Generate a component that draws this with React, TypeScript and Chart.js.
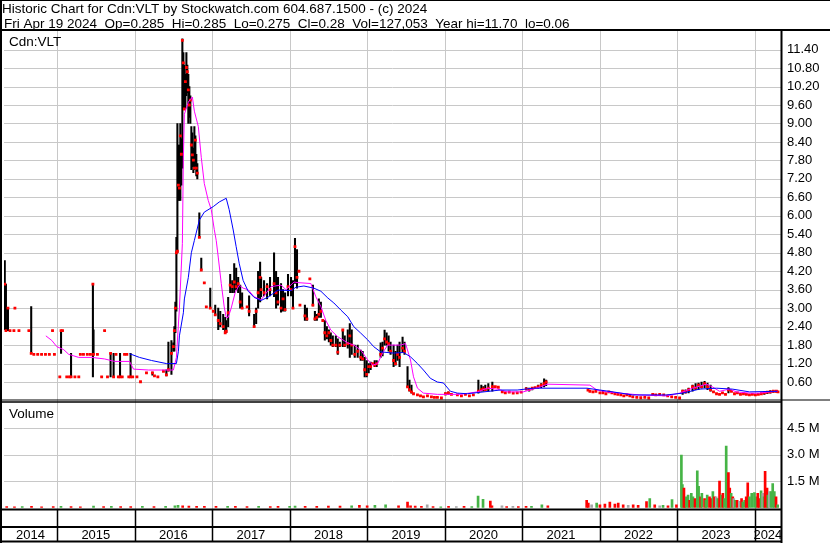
import React, { useEffect, useRef } from "react";
import { Chart, registerables } from "chart.js";

Chart.register(...registerables);

const FONT = "'Liberation Sans', Arial, sans-serif";

// ---- text ----
const headerLine1 = "Historic Chart for Cdn:VLT by Stockwatch.com 604.687.1500 - (c) 2024";
const headerLine2 = "Fri Apr 19 2024  Op=0.285  Hi=0.285  Lo=0.275  Cl=0.28  Vol=127,053  Year hi=11.70  lo=0.06";
const symbolLabel = "Cdn:VLT";
const volumeLabel = "Volume";
const yearLabels = ["2014", "2015", "2016", "2017", "2018", "2019", "2020", "2021", "2022", "2023", "2024"];
const priceTicks = [0.6, 1.2, 1.8, 2.4, 3.0, 3.6, 4.2, 4.8, 5.4, 6.0, 6.6, 7.2, 7.8, 8.4, 9.0, 9.6, 10.2, 10.8, 11.4];
const volumeTicks = [1.5, 3.0, 4.5];

// ---- time range (decimal years) ----
const xMin = 2014.315;
const xMax = 2024.339;

// ---- price bars (decimal year, high, low, close) ----
const barDates = [
  2014.325, 2014.340, 2014.366, 2014.392, 2014.443, 2014.456, 2014.508, 2014.636, 2014.666, 2014.700,
  2014.750, 2014.800, 2014.850, 2014.900, 2014.941, 2014.965, 2015.035, 2015.051, 2015.070, 2015.125,
  2015.160, 2015.180, 2015.230, 2015.280, 2015.300, 2015.340, 2015.390, 2015.430, 2015.462, 2015.470,
  2015.520, 2015.575, 2015.613, 2015.650, 2015.690, 2015.729, 2015.760, 2015.790, 2015.812, 2015.840,
  2015.870, 2015.900, 2015.925, 2015.948, 2015.975, 2016.030, 2016.076, 2016.153, 2016.230, 2016.256,
  2016.300, 2016.372, 2016.410, 2016.436, 2016.475, 2016.500, 2016.513, 2016.526, 2016.539, 2016.552,
  2016.565, 2016.578, 2016.590, 2016.603, 2016.616, 2016.629, 2016.642, 2016.655, 2016.668, 2016.680,
  2016.693, 2016.706, 2016.719, 2016.732, 2016.745, 2016.758, 2016.771, 2016.784, 2016.796, 2016.809,
  2016.835, 2016.860, 2016.899, 2016.925, 2016.976, 2017.015, 2017.040, 2017.079, 2017.105, 2017.143,
  2017.169, 2017.182, 2017.207, 2017.233, 2017.259, 2017.285, 2017.310, 2017.336, 2017.362, 2017.387,
  2017.452, 2017.477, 2017.542, 2017.568, 2017.593, 2017.619, 2017.632, 2017.670, 2017.709, 2017.747,
  2017.799, 2017.825, 2017.850, 2017.889, 2017.915, 2017.941, 2017.979, 2018.018, 2018.043, 2018.069,
  2018.095, 2018.120, 2018.133, 2018.197, 2018.223, 2018.261, 2018.300, 2018.326, 2018.351, 2018.377,
  2018.403, 2018.428, 2018.454, 2018.480, 2018.506, 2018.531, 2018.557, 2018.596, 2018.621, 2018.647,
  2018.686, 2018.711, 2018.750, 2018.776, 2018.801, 2018.840, 2018.878, 2018.917, 2018.942, 2018.968,
  2018.994, 2019.020, 2019.045, 2019.071, 2019.097, 2019.123, 2019.174, 2019.199, 2019.225, 2019.251,
  2019.277, 2019.302, 2019.341, 2019.366, 2019.392, 2019.418, 2019.457, 2019.482, 2019.521, 2019.546,
  2019.572, 2019.598, 2019.649, 2019.688, 2019.726, 2019.778, 2019.829, 2019.868, 2019.906, 2019.958,
  2020.010, 2020.048, 2020.087, 2020.164, 2020.216, 2020.267, 2020.319, 2020.370, 2020.435, 2020.473,
  2020.499, 2020.524, 2020.563, 2020.615, 2020.653, 2020.692, 2020.743, 2020.782, 2020.833, 2020.884,
  2020.936, 2020.987, 2021.052, 2021.090, 2021.129, 2021.167, 2021.206, 2021.245, 2021.283, 2021.309,
  2021.849, 2021.874, 2021.913, 2021.951, 2022.003, 2022.042, 2022.080, 2022.118, 2022.157, 2022.196,
  2022.234, 2022.273, 2022.311, 2022.350, 2022.389, 2022.427, 2022.479, 2022.530, 2022.582, 2022.633,
  2022.684, 2022.723, 2022.774, 2022.826, 2022.877, 2022.929, 2022.980, 2023.031, 2023.070, 2023.108,
  2023.147, 2023.198, 2023.237, 2023.275, 2023.314, 2023.353, 2023.391, 2023.430, 2023.468, 2023.507,
  2023.546, 2023.584, 2023.623, 2023.661, 2023.700, 2023.739, 2023.777, 2023.816, 2023.855, 2023.893,
  2023.932, 2023.970, 2024.009, 2024.047, 2024.086, 2024.124, 2024.163, 2024.201, 2024.240, 2024.279, 2024.300,
];
const barHigh = [
  4.55, 3.78, 3.00, 2.27, 2.27, 3.00, 2.27, 2.27, 3.05, 1.50,
  1.50, 1.50, 1.50, 1.50, 2.27, 1.50, 0.77, 2.27, 2.27, 0.77,
  0.77, 1.53, 0.77, 0.77, 1.50, 1.50, 1.50, 1.50, 3.78, 2.30,
  1.50, 0.77, 2.27, 0.77, 1.53, 1.53, 1.50, 0.77, 1.53, 0.77,
  1.50, 1.50, 0.77, 1.53, 0.77, 0.77, 0.61, 0.90, 0.92, 0.80,
  0.77, 0.95, 1.00, 1.90, 1.95, 1.87, 2.40, 3.20, 5.30, 9.00,
  8.30, 8.30, 9.00, 8.50, 11.75, 11.30, 10.90, 10.60, 11.30, 10.90,
  10.60, 10.20, 9.90, 8.90, 8.70, 8.20, 8.90, 8.60, 8.00, 7.70,
  6.10, 4.63, 3.82, 3.04, 3.65, 2.90, 3.10, 3.00, 2.90, 2.80,
  2.70, 2.60, 3.35, 4.10, 3.90, 4.45, 4.30, 4.00, 3.75, 3.50,
  3.04, 3.40, 2.80, 3.00, 4.20, 4.50, 4.00, 3.90, 3.80, 4.00,
  4.80, 4.20, 4.00, 3.80, 3.60, 3.50, 4.10, 4.00, 3.90, 5.27,
  4.90, 4.20, 3.10, 3.10, 3.00, 3.95, 3.75, 2.90, 2.80, 3.30,
  3.20, 2.60, 2.60, 2.40, 2.30, 2.20, 2.10, 2.10, 2.00, 1.90,
  2.30, 2.10, 2.30, 2.50, 2.30, 1.80, 1.80, 1.64, 1.60, 1.40,
  1.30, 1.20, 1.25, 1.20, 1.30, 1.30, 1.87, 1.90, 2.29, 2.20,
  2.10, 1.90, 1.80, 1.60, 1.80, 1.90, 2.06, 1.90, 1.10, 0.66,
  0.50, 0.22, 0.18, 0.15, 0.12, 0.15, 0.12, 0.10, 0.10, 0.08,
  0.25, 0.28, 0.20, 0.18, 0.15, 0.20, 0.15, 0.18, 0.66, 0.50,
  0.45, 0.50, 0.55, 0.60, 0.45, 0.43, 0.28, 0.25, 0.27, 0.24,
  0.25, 0.27, 0.42, 0.40, 0.42, 0.42, 0.50, 0.55, 0.70, 0.66,
  0.34, 0.30, 0.28, 0.30, 0.25, 0.32, 0.22, 0.28, 0.25, 0.22,
  0.20, 0.18, 0.15, 0.18, 0.15, 0.12, 0.10, 0.09, 0.10, 0.08,
  0.20, 0.18, 0.20, 0.18, 0.15, 0.12, 0.10, 0.08, 0.34, 0.35,
  0.40, 0.50, 0.55, 0.57, 0.60, 0.62, 0.57, 0.50, 0.28, 0.22,
  0.20, 0.25, 0.20, 0.42, 0.30, 0.22, 0.25, 0.20, 0.22, 0.20,
  0.18, 0.20, 0.18, 0.20, 0.22, 0.28, 0.30, 0.32, 0.32, 0.33, 0.285,
];
const barLow = [
  2.30, 2.27, 2.27, 2.27, 2.27, 3.00, 2.27, 2.27, 1.53, 1.50,
  1.50, 1.50, 1.50, 1.50, 2.27, 1.50, 0.77, 1.53, 2.27, 0.77,
  0.77, 0.77, 0.77, 0.77, 1.50, 1.50, 1.50, 1.50, 0.77, 1.50,
  1.50, 0.77, 2.27, 0.77, 0.77, 0.77, 1.50, 0.77, 0.77, 0.77,
  1.50, 1.50, 0.77, 0.77, 0.77, 0.77, 0.61, 0.90, 0.82, 0.80,
  0.77, 0.95, 0.80, 0.95, 0.85, 1.60, 1.60, 2.20, 2.90, 4.80,
  6.50, 6.50, 6.50, 7.00, 7.55, 9.45, 9.45, 9.50, 9.90, 10.00,
  9.00, 9.20, 9.00, 7.50, 7.60, 7.40, 7.50, 7.60, 7.30, 7.20,
  5.30, 4.24, 3.82, 3.04, 3.00, 2.90, 2.78, 2.30, 2.40, 2.30,
  2.20, 2.20, 2.40, 3.50, 3.50, 3.50, 3.60, 3.50, 3.00, 3.00,
  3.04, 2.75, 2.40, 2.50, 3.00, 3.20, 3.37, 3.40, 3.30, 3.40,
  3.37, 3.00, 3.10, 2.87, 2.90, 2.90, 3.40, 3.40, 3.00, 3.80,
  3.65, 4.20, 3.10, 2.60, 2.60, 3.95, 3.07, 2.60, 2.60, 2.70,
  2.70, 2.60, 1.96, 2.00, 1.90, 1.80, 1.75, 1.75, 1.50, 1.75,
  1.75, 1.75, 1.70, 1.40, 1.50, 1.40, 1.40, 1.30, 1.30, 0.77,
  0.77, 0.90, 1.00, 1.20, 1.10, 1.10, 1.40, 1.45, 1.80, 1.80,
  1.60, 1.50, 1.10, 1.15, 1.30, 1.10, 1.57, 1.50, 0.44, 0.30,
  0.24, 0.22, 0.18, 0.15, 0.12, 0.15, 0.12, 0.10, 0.10, 0.08,
  0.18, 0.20, 0.20, 0.18, 0.15, 0.20, 0.15, 0.18, 0.24, 0.30,
  0.30, 0.32, 0.30, 0.30, 0.45, 0.43, 0.28, 0.25, 0.27, 0.24,
  0.25, 0.27, 0.34, 0.30, 0.34, 0.42, 0.40, 0.42, 0.44, 0.48,
  0.34, 0.30, 0.28, 0.30, 0.25, 0.22, 0.22, 0.28, 0.25, 0.22,
  0.20, 0.18, 0.15, 0.18, 0.15, 0.12, 0.10, 0.09, 0.10, 0.08,
  0.20, 0.18, 0.20, 0.18, 0.15, 0.12, 0.10, 0.08, 0.20, 0.24,
  0.25, 0.30, 0.35, 0.35, 0.40, 0.42, 0.35, 0.30, 0.28, 0.22,
  0.20, 0.25, 0.20, 0.25, 0.30, 0.22, 0.25, 0.20, 0.22, 0.20,
  0.18, 0.20, 0.18, 0.20, 0.22, 0.20, 0.22, 0.24, 0.26, 0.27, 0.275,
];
const barClose = [
  3.78, 2.27, 3.00, 2.27, 2.27, 3.00, 2.27, 2.27, 1.53, 1.50,
  1.50, 1.50, 1.50, 1.50, 2.27, 1.50, 0.77, 2.27, 2.27, 0.77,
  0.77, 0.77, 0.77, 0.77, 1.50, 1.50, 1.50, 1.50, 3.78, 1.50,
  1.50, 0.77, 2.27, 0.77, 1.53, 0.77, 1.50, 0.77, 0.77, 0.77,
  1.50, 1.50, 0.77, 0.77, 0.77, 0.77, 0.61, 0.90, 0.90, 0.80,
  0.77, 0.95, 0.83, 1.00, 1.53, 1.75, 2.27, 3.00, 4.80, 4.85,
  7.00, 6.90, 8.60, 8.00, 11.70, 10.97, 9.47, 10.36, 10.82, 10.68,
  10.09, 9.60, 9.76, 8.30, 7.98, 7.81, 7.55, 8.46, 7.55, 7.39,
  5.30, 4.24, 3.82, 3.04, 3.00, 2.90, 2.78, 2.60, 2.50, 2.40,
  2.20, 2.25, 2.85, 3.75, 3.70, 3.85, 3.70, 3.80, 3.20, 3.00,
  3.04, 2.90, 2.40, 2.90, 3.50, 4.00, 3.60, 3.50, 3.70, 3.60,
  3.80, 3.50, 3.20, 3.00, 3.30, 2.95, 3.70, 3.60, 3.00, 5.00,
  4.00, 4.20, 3.10, 2.75, 2.65, 3.95, 3.10, 2.65, 2.70, 2.80,
  2.90, 2.60, 2.20, 2.10, 2.20, 1.95, 1.80, 1.80, 1.57, 1.80,
  2.29, 1.80, 1.85, 2.10, 1.80, 1.50, 1.60, 1.40, 1.35, 1.00,
  0.85, 1.10, 1.10, 1.20, 1.15, 1.20, 1.50, 1.70, 2.00, 1.90,
  1.85, 1.60, 1.30, 1.20, 1.50, 1.40, 1.70, 1.60, 0.44, 0.35,
  0.28, 0.22, 0.18, 0.15, 0.12, 0.15, 0.12, 0.10, 0.10, 0.08,
  0.22, 0.25, 0.20, 0.18, 0.15, 0.20, 0.15, 0.18, 0.30, 0.35,
  0.38, 0.35, 0.40, 0.45, 0.45, 0.43, 0.28, 0.25, 0.27, 0.24,
  0.25, 0.27, 0.38, 0.36, 0.40, 0.42, 0.45, 0.50, 0.55, 0.60,
  0.34, 0.30, 0.28, 0.30, 0.25, 0.25, 0.22, 0.28, 0.25, 0.22,
  0.20, 0.18, 0.15, 0.18, 0.15, 0.12, 0.10, 0.09, 0.10, 0.08,
  0.20, 0.18, 0.20, 0.18, 0.15, 0.12, 0.10, 0.08, 0.30, 0.28,
  0.35, 0.45, 0.40, 0.50, 0.45, 0.55, 0.45, 0.35, 0.28, 0.22,
  0.20, 0.25, 0.20, 0.35, 0.30, 0.22, 0.25, 0.20, 0.22, 0.20,
  0.18, 0.20, 0.18, 0.20, 0.22, 0.25, 0.27, 0.28, 0.30, 0.30, 0.28,
];

// ---- short moving average (magenta) ----
const fastMaDates = [
  2014.855, 2014.932, 2014.996, 2015.086, 2015.150, 2015.215, 2015.279, 2015.446, 2015.613, 2015.742,
  2015.935, 2015.986, 2016.179, 2016.500, 2016.539, 2016.578, 2016.616, 2016.629, 2016.642, 2016.693,
  2016.745, 2016.771, 2016.822, 2016.860, 2016.899, 2016.950, 2016.989, 2017.028, 2017.053, 2017.079,
  2017.118, 2017.156, 2017.182, 2017.207, 2017.246, 2017.297, 2017.349, 2017.400, 2017.465, 2017.542,
  2017.632, 2017.760, 2017.889, 2017.953, 2018.056, 2018.107, 2018.274, 2018.338, 2018.403, 2018.467,
  2018.531, 2018.621, 2018.750, 2018.827, 2018.917, 2019.007, 2019.071, 2019.135, 2019.199, 2019.264,
  2019.431, 2019.495, 2019.559, 2019.598, 2019.649, 2019.726, 2019.906, 2020.203, 2020.422, 2020.550,
  2020.679, 2020.807, 2021.013, 2021.142, 2021.232, 2021.322, 2021.874, 2021.964, 2022.093, 2022.260,
  2022.517, 2022.864, 2023.031, 2023.198, 2023.378, 2023.456, 2023.546, 2023.674, 2023.764, 2023.932,
  2024.060, 2024.189, 2024.292,
];
const fastMaValues = [
  2.10, 1.95, 1.75, 1.65, 1.50, 1.45, 1.40, 1.40, 1.35, 1.27,
  1.27, 1.02, 0.99, 0.99, 1.40, 3.00, 5.10, 7.90, 9.30, 9.70,
  9.86, 9.40, 8.90, 7.90, 7.05, 6.50, 6.20, 5.55, 5.20, 4.66,
  3.80, 3.04, 2.70, 2.70, 3.00, 3.50, 3.75, 3.65, 3.60, 3.37,
  3.27, 3.70, 3.75, 3.60, 3.85, 3.83, 3.80, 3.37, 3.05, 2.60,
  2.29, 2.07, 1.87, 1.80, 1.64, 1.32, 1.15, 1.20, 1.54, 1.80,
  1.80, 1.85, 1.32, 0.77, 0.40, 0.24, 0.20, 0.20, 0.28, 0.40,
  0.37, 0.28, 0.28, 0.37, 0.44, 0.53, 0.50, 0.34, 0.28, 0.24,
  0.18, 0.15, 0.24, 0.40, 0.53, 0.44, 0.30, 0.37, 0.28, 0.24,
  0.24, 0.28, 0.30,
];

// ---- long moving average (blue) ----
const slowMaDates = [
  2015.935, 2016.063, 2016.218, 2016.410, 2016.539, 2016.565, 2016.578, 2016.629, 2016.642, 2016.693,
  2016.732, 2016.771, 2016.835, 2016.899, 2017.015, 2017.092, 2017.182, 2017.220, 2017.272, 2017.310,
  2017.349, 2017.400, 2017.465, 2017.542, 2017.632, 2017.722, 2017.850, 2018.018, 2018.082, 2018.184,
  2018.313, 2018.403, 2018.493, 2018.570, 2018.660, 2018.750, 2018.827, 2018.917, 2019.007, 2019.084,
  2019.174, 2019.341, 2019.469, 2019.559, 2019.649, 2019.726, 2019.816, 2019.906, 2019.984, 2020.074,
  2020.164, 2020.293, 2020.717, 2020.936, 2021.142, 2021.836, 2022.003, 2022.170, 2022.427, 2022.864,
  2023.070, 2023.288, 2023.507, 2023.713, 2023.932, 2024.292,
];
const slowMaValues = [
  1.52, 1.40, 1.30, 1.20, 1.20, 1.60, 2.10, 2.85, 3.30, 4.00,
  4.80, 5.20, 5.86, 6.12, 6.30, 6.45, 6.57, 6.20, 5.54, 5.00,
  4.46, 3.90, 3.55, 3.35, 3.25, 3.36, 3.59, 3.57, 3.68, 3.72,
  3.65, 3.55, 3.33, 3.17, 2.94, 2.72, 2.40, 2.19, 1.97, 1.75,
  1.58, 1.54, 1.56, 1.42, 1.20, 0.99, 0.72, 0.60, 0.57, 0.30,
  0.24, 0.22, 0.34, 0.34, 0.40, 0.40, 0.34, 0.28, 0.18, 0.18,
  0.24, 0.37, 0.40, 0.37, 0.28, 0.30,
];

// ---- volume (decimal year, millions of shares, u=up d=down n=unchanged) ----
const volDates = [
  2014.350, 2014.450, 2014.550, 2014.670, 2014.800, 2014.950, 2015.050, 2015.180, 2015.300, 2015.470,
  2015.600, 2015.700, 2015.820, 2015.950, 2016.100, 2016.250, 2016.400, 2016.520, 2016.560, 2016.620,
  2016.700, 2016.800, 2016.900, 2017.050, 2017.200, 2017.300, 2017.450, 2017.600, 2017.750, 2017.850,
  2018.000, 2018.070, 2018.200, 2018.350, 2018.500, 2018.650, 2018.800, 2018.900, 2019.000, 2019.100,
  2019.238, 2019.405, 2019.521, 2019.560, 2019.620, 2019.700, 2019.775, 2019.850, 2019.950, 2020.050,
  2020.150, 2020.250, 2020.350, 2020.431, 2020.495, 2020.589, 2020.610, 2020.739, 2020.800, 2020.880,
  2020.950, 2021.050, 2021.120, 2021.254, 2021.331, 2021.832, 2021.853, 2021.896, 2021.961, 2022.003,
  2022.067, 2022.131, 2022.196, 2022.239, 2022.303, 2022.368, 2022.432, 2022.496, 2022.604, 2022.646,
  2022.710, 2022.774, 2022.817, 2022.881, 2022.933, 2022.990, 2023.054, 2023.067, 2023.087, 2023.100,
  2023.118, 2023.140, 2023.160, 2023.182, 2023.203, 2023.230, 2023.259, 2023.276, 2023.302, 2023.318,
  2023.353, 2023.370, 2023.387, 2023.417, 2023.440, 2023.460, 2023.481, 2023.503, 2023.524, 2023.546,
  2023.570, 2023.589, 2023.610, 2023.632, 2023.645, 2023.661, 2023.678, 2023.696, 2023.717, 2023.730,
  2023.748, 2023.773, 2023.803, 2023.830, 2023.846, 2023.870, 2023.890, 2023.910, 2023.932, 2023.961,
  2023.996, 2024.018, 2024.039, 2024.060, 2024.082, 2024.103, 2024.120, 2024.134, 2024.159, 2024.170,
  2024.189, 2024.211, 2024.232, 2024.253, 2024.275, 2024.296,
];
const volValues = [
  0.05, 0.04, 0.05, 0.06, 0.04, 0.05, 0.06, 0.05, 0.04, 0.08,
  0.05, 0.06, 0.05, 0.05, 0.06, 0.05, 0.06, 0.10, 0.12, 0.10,
  0.08, 0.07, 0.06, 0.06, 0.07, 0.06, 0.05, 0.06, 0.05, 0.07,
  0.06, 0.08, 0.06, 0.07, 0.08, 0.08, 0.10, 0.12, 0.10, 0.12,
  0.15, 0.10, 0.30, 0.10, 0.08, 0.06, 0.15, 0.05, 0.04, 0.06,
  0.05, 0.06, 0.05, 0.65, 0.46, 0.37, 0.10, 0.10, 0.05, 0.06,
  0.05, 0.06, 0.07, 0.15, 0.10, 0.40, 0.25, 0.15, 0.25, 0.15,
  0.20, 0.30, 0.20, 0.25, 0.15, 0.12, 0.15, 0.12, 0.33, 0.50,
  0.15, 0.10, 0.12, 0.10, 0.45, 0.15, 2.97, 1.30, 1.10, 0.50,
  0.60, 0.70, 0.40, 0.80, 0.60, 0.50, 2.07, 1.20, 0.60, 0.80,
  0.50, 0.40, 0.70, 0.60, 0.50, 0.90, 0.60, 0.60, 0.50, 1.50,
  0.70, 0.80, 0.50, 3.48, 1.95, 1.97, 1.10, 0.80, 0.60, 0.50,
  0.40, 0.40, 0.35, 0.50, 0.30, 0.40, 0.60, 1.40, 0.60, 0.80,
  0.85, 0.60, 0.80, 0.50, 0.95, 0.80, 0.60, 2.05, 1.10, 0.70,
  0.90, 0.90, 1.35, 0.90, 0.60, 0.15,
];
const volDirection = [
  "d", "d", "u", "d", "d", "d", "u", "d", "d", "u",
  "d", "u", "d", "d", "u", "d", "u", "u", "u", "d",
  "d", "d", "d", "d", "u", "d", "d", "u", "d", "d",
  "u", "u", "d", "d", "d", "d", "u", "d", "d", "u",
  "u", "d", "d", "d", "d", "d", "n", "d", "u", "d",
  "n", "d", "u", "u", "u", "d", "d", "n", "d", "n",
  "d", "d", "u", "u", "d", "d", "d", "n", "u", "d",
  "d", "d", "d", "d", "d", "n", "d", "d", "d", "u",
  "d", "n", "u", "d", "u", "d", "u", "u", "d", "d",
  "u", "u", "d", "u", "u", "d", "u", "u", "d", "u",
  "d", "u", "u", "d", "d", "u", "d", "n", "u", "d",
  "u", "d", "u", "u", "u", "d", "d", "u", "d", "n",
  "u", "d", "n", "d", "u", "u", "d", "d", "u", "u",
  "u", "u", "d", "d", "u", "n", "u", "d", "d", "u",
  "n", "u", "u", "u", "d", "u",
];

const GRID = "#C8C8C8";
const UP = "#46B446";
const DOWN = "#FF0000";
const FLAT = "#A6A6A6";

export default function App() {
  const ref = useRef<HTMLCanvasElement | null>(null);

  useEffect(() => {
    const canvas = ref.current;
    if (!canvas) return;

    const ranges = barDates.map((d, i) => ({ x: d, y: [barLow[i], barHigh[i]] }));
    const closes = barDates.map((d, i) => ({ x: d, y: barClose[i] }));
    const fast = fastMaDates.map((d, i) => ({ x: d, y: fastMaValues[i] }));
    const slow = slowMaDates.map((d, i) => ({ x: d, y: slowMaValues[i] }));
    const vols = volDates.map((d, i) => ({ x: d, y: volValues[i] }));
    const volColors = volDirection.map((c) => (c === "u" ? UP : c === "d" ? DOWN : FLAT));

    const yearStarts = yearLabels.map((y) => Number(y));
    const boundaries = yearStarts.filter((y) => y > xMin && y < xMax);
    const mids = yearStarts.map((y) => (Math.max(xMin, y) + Math.min(xMax, y + 1)) / 2);

    const noPad = (s: any) => {
      s.paddingLeft = 0;
      s.paddingRight = 0;
      s.paddingTop = 0;
      s.paddingBottom = 0;
    };

    const frame = {
      id: "frame",
      beforeDraw(chart: any) {
        const ctx = chart.ctx;
        ctx.save();
        ctx.fillStyle = "#fff";
        ctx.fillRect(0, 0, chart.width, chart.height);
        ctx.restore();
      },
      beforeDatasetsDraw(chart: any) {
        const ctx = chart.ctx;
        const ca = chart.chartArea;
        const xs = chart.scales.x;
        const yp = chart.scales.yPrice;
        const yv = chart.scales.yVol;
        ctx.save();
        ctx.strokeStyle = GRID;
        ctx.lineWidth = 1;
        ctx.beginPath();
        yp.ticks.forEach((t: any) => {
          const py = Math.round(yp.getPixelForValue(t.value)) + 0.5;
          ctx.moveTo(ca.left, py);
          ctx.lineTo(ca.right, py);
        });
        yv.ticks.forEach((t: any) => {
          const py = Math.round(yv.getPixelForValue(t.value)) + 0.5;
          ctx.moveTo(ca.left, py);
          ctx.lineTo(ca.right, py);
        });
        xs.ticks.forEach((t: any) => {
          const px = Math.round(xs.getPixelForValue(t.value)) + 0.5;
          ctx.moveTo(px, 31);
          ctx.lineTo(px, ca.bottom);
        });
        ctx.stroke();
        ctx.restore();
      },
      afterDraw(chart: any) {
        const ctx = chart.ctx;
        const ca = chart.chartArea;
        const xs = chart.scales.x;
        const yp = chart.scales.yPrice;
        const yv = chart.scales.yVol;
        const W = chart.width;
        const H = chart.height;
        ctx.save();
        ctx.strokeStyle = "#000";
        const line = (x1: number, y1: number, x2: number, y2: number, w: number) => {
          ctx.beginPath();
          ctx.lineWidth = w;
          ctx.moveTo(x1, y1);
          ctx.lineTo(x2, y2);
          ctx.stroke();
        };
        // frame
        line(0, 0.5, W, 0.5, 1);
        line(1, 0, 1, H, 2);
        line(0, 30, W, 30, 2);
        // panel separators
        line(0, yp.bottom - 0.5, W, yp.bottom - 0.5, 1);
        line(0, yv.top + 1.5, ca.right, yv.top + 1.5, 1.5);
        line(0, ca.bottom, ca.right, ca.bottom, 2);
        line(0, ca.bottom + 17.5, ca.right, ca.bottom + 17.5, 2);
        line(0, H - 1.5, ca.right, H - 1.5, 2);
        line(ca.right + 0.5, 30, ca.right + 0.5, H, 2);
        // year separators in the date band
        boundaries.forEach((y) => {
          const px = Math.round(xs.getPixelForValue(y)) + 0.5;
          line(px, ca.bottom, px, H - 1.5, 1.5);
        });
        // texts
        ctx.fillStyle = "#000";
        ctx.textBaseline = "alphabetic";
        ctx.textAlign = "left";
        ctx.font = `13.5px ${FONT}`;
        ctx.fillText(headerLine1, 2, 12.5);
        ctx.fillText(headerLine2, 4, 27.5);
        ctx.fillText(symbolLabel, 9, 46);
        ctx.fillText(volumeLabel, 9, 418);
        ctx.restore();
      },
    };

    Chart.defaults.font.family = FONT;
    Chart.defaults.color = "#000";

    const chart = new Chart(canvas, {
      type: "bar",
      data: {
        datasets: [
          {
            type: "line",
            label: "slow",
            data: slow,
            xAxisID: "x",
            yAxisID: "yPrice",
            borderColor: "#0000FF",
            borderWidth: 1,
            pointRadius: 0,
            tension: 0,
            order: 1,
          },
          {
            type: "line",
            label: "fast",
            data: fast,
            xAxisID: "x",
            yAxisID: "yPrice",
            borderColor: "#FF00FF",
            borderWidth: 1,
            pointRadius: 0,
            tension: 0,
            order: 2,
          },
          {
            type: "line",
            label: "close",
            data: closes,
            xAxisID: "x",
            yAxisID: "yPrice",
            showLine: false,
            pointStyle: "rect",
            pointRadius: 2,
            pointBackgroundColor: DOWN,
            pointBorderWidth: 0,
            borderColor: DOWN,
            order: 3,
          },
          {
            type: "bar",
            label: "range",
            data: ranges,
            xAxisID: "x",
            yAxisID: "yPrice",
            backgroundColor: "#000",
            barThickness: 1.4,
            grouped: false,
            order: 4,
          },
          {
            type: "bar",
            label: "volume",
            data: vols,
            xAxisID: "x",
            yAxisID: "yVol",
            backgroundColor: volColors,
            barThickness: 2,
            grouped: false,
            order: 5,
          },
        ] as any,
      },
      options: {
        responsive: false,
        animation: false,
        devicePixelRatio: 1,
        events: [],
        layout: { padding: { left: 2, top: 33, right: 0, bottom: 1.5 } },
        plugins: { legend: { display: false }, tooltip: { enabled: false } },
        scales: {
          x: {
            type: "linear",
            position: "bottom",
            offset: false,
            min: xMin,
            max: xMax,
            afterBuildTicks: (s: any) => {
              s.ticks = boundaries.map((v) => ({ value: v }));
            },
            afterFit: (s: any) => {
              s.height = 0;
              noPad(s);
            },
            ticks: { display: false, autoSkip: false },
            grid: { display: false, offset: false, drawTicks: false },
            border: { display: false },
          },
          xYears: {
            type: "linear",
            position: "bottom",
            offset: false,
            min: xMin,
            max: xMax,
            afterBuildTicks: (s: any) => {
              s.ticks = mids.map((v) => ({ value: v }));
            },
            afterFit: (s: any) => {
              s.height = 32;
              noPad(s);
            },
            ticks: {
              callback: (_v: any, i: number) => yearLabels[i],
              font: { family: FONT, size: 13 },
              color: "#000",
              padding: 18,
              maxRotation: 0,
              autoSkip: false,
            },
            grid: { display: false, offset: false, drawTicks: false },
            border: { display: false },
          },
          yPrice: {
            type: "linear",
            position: "right",
            stack: "panels",
            stackWeight: 367.5,
            min: 0,
            max: 11.94,
            afterBuildTicks: (s: any) => {
              s.ticks = priceTicks.map((v) => ({ value: v }));
            },
            afterFit: (s: any) => {
              s.width = 49;
              noPad(s);
            },
            ticks: {
              callback: (v: any) => Number(v).toFixed(2),
              font: { family: FONT, size: 13 },
              color: "#000",
              padding: 6,
              autoSkip: false,
            },
            grid: { display: false, drawTicks: false },
            border: { display: false },
          },
          yVol: {
            type: "linear",
            position: "right",
            stack: "panels",
            stackWeight: 109,
            min: -0.113,
            max: 6.057,
            afterBuildTicks: (s: any) => {
              s.ticks = volumeTicks.map((v) => ({ value: v }));
            },
            afterFit: (s: any) => {
              s.width = 49;
              noPad(s);
            },
            ticks: {
              callback: (v: any) => Number(v).toFixed(1) + " M",
              font: { family: FONT, size: 13 },
              color: "#000",
              padding: 6,
              autoSkip: false,
            },
            grid: { display: false, drawTicks: false },
            border: { display: false },
          },
        } as any,
      },
      plugins: [frame],
    });

    return () => chart.destroy();
  }, []);

  return (
    <div style={{ position: "fixed", left: 0, top: 0, width: 830, height: 543, background: "#fff" }}>
      <canvas ref={ref} width={830} height={543} style={{ display: "block" }} />
    </div>
  );
}
